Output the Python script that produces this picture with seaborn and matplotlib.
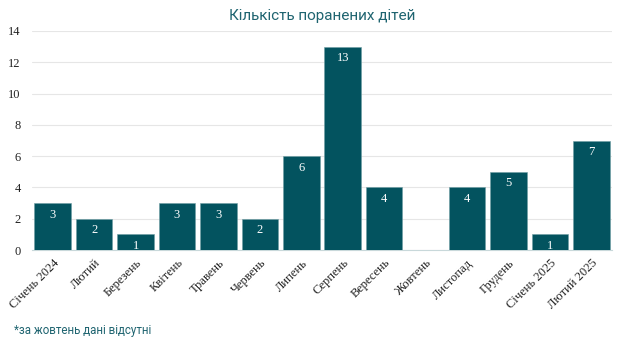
import numpy as np
import pandas as pd
import matplotlib
matplotlib.use("Agg")
import matplotlib.pyplot as plt
import seaborn as sns

months = ["Січень 2024", "Лютий", "Березень", "Квітень", "Травень", "Червень", "Липень",
          "Серпень", "Вересень", "Жовтень", "Листопад", "Грудень", "Січень 2025", "Лютий 2025"]
injured = [3, 2, 1, 3, 3, 2, 6, 13, 4, np.nan, 4, 5, 1, 7]

BAR = "#03535f"
TEAL = "#1f6470"

df = pd.DataFrame({"month": months, "injured": injured})

sns.set_style("white")
plt.rcParams['font.family'] = ['Liberation Serif', 'DejaVu Serif']

fig = plt.figure(figsize=(6.25, 3.51), dpi=100)
ax = fig.add_axes([0.0512, 0.2877, 0.928, 0.624])

sns.barplot(data=df, x="month", y="injured", color=BAR, saturation=1, width=0.88,
            edgecolor="#6f9ea4", linewidth=0.4, ax=ax, zorder=3)

# value labels inside bars
for i, v in enumerate(injured):
    if not np.isnan(v):
        ax.text(i, v - 0.35, f"{int(v)}", ha="center", va="top", color="white", fontsize=9, zorder=4)

ax.set_ylim(0, 14)
ax.set_yticks(range(0, 15, 2))
ax.set_xlim(-0.5, len(months) - 0.5)
ax.grid(axis="y", color="#e6e6e6", linewidth=0.8, zorder=0)
for s in ["top", "right", "left"]:
    ax.spines[s].set_visible(False)
ax.spines["bottom"].set_color("#c8d8da")
ax.spines["bottom"].set_linewidth(0.8)
ax.set_xlabel("")
ax.set_ylabel("")
ax.tick_params(axis="both", length=0, labelsize=9, colors="#222222")
ax.tick_params(axis="y", pad=8)
ax.tick_params(axis="x", pad=5)
plt.setp(ax.get_xticklabels(), rotation=45, ha="right", rotation_mode="anchor")

fig.text(0.516, 0.955, "Кількість поранених дітей", ha="center", va="center",
         fontsize=11, color=TEAL, family=["Roboto", "DejaVu Sans"])
fig.text(0.022, 0.057, "*за жовтень дані відсутні", ha="left", va="center",
         fontsize=8.3, color=TEAL, family=["Roboto", "DejaVu Sans"])

fig.savefig("out.png", dpi=100)
